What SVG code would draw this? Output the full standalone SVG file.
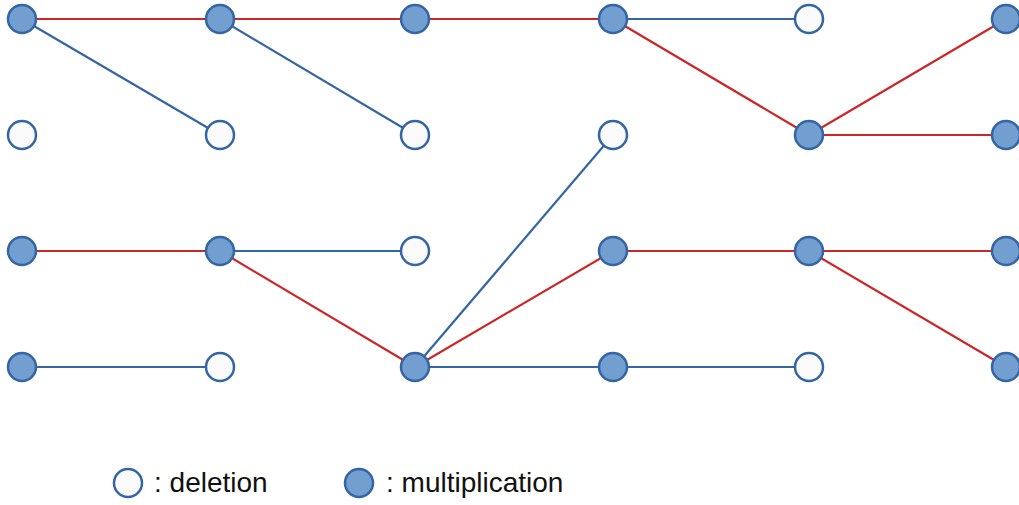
<svg xmlns="http://www.w3.org/2000/svg" width="1019" height="505" viewBox="0 0 1019 505">
<style>
.m{fill:#729fcf;stroke:#3465a4;stroke-width:2.5}
.d{fill:#fafafa;stroke:#3465a4;stroke-width:2.5}
.r{stroke:#cc2727;stroke-width:2.2;fill:none}
.b{stroke:#3465a4;stroke-width:2.2;fill:none}
text{font-family:"Liberation Sans",Arial,sans-serif;font-size:28px;fill:#111}
</style>
<rect width="1019" height="505" fill="#fff"/>
<g id="connectors">
<line class="r" x1="22" y1="19" x2="220" y2="19"/>
<line class="r" x1="220" y1="19" x2="415" y2="19"/>
<line class="r" x1="415" y1="19" x2="613" y2="19"/>
<line class="r" x1="613" y1="19" x2="809" y2="135"/>
<line class="r" x1="809" y1="135" x2="1006" y2="19"/>
<line class="r" x1="809" y1="135" x2="1006" y2="135"/>
<line class="r" x1="22" y1="251" x2="220" y2="251"/>
<line class="r" x1="220" y1="251" x2="415" y2="367"/>
<line class="r" x1="415" y1="367" x2="613" y2="251"/>
<line class="r" x1="613" y1="251" x2="809" y2="251"/>
<line class="r" x1="809" y1="251" x2="1006" y2="251"/>
<line class="r" x1="809" y1="251" x2="1006" y2="367"/>
<line class="b" x1="22" y1="19" x2="220" y2="135"/>
<line class="b" x1="220" y1="19" x2="415" y2="135"/>
<line class="b" x1="613" y1="19" x2="809" y2="19"/>
<line class="b" x1="220" y1="251" x2="415" y2="251"/>
<line class="b" x1="22" y1="367" x2="220" y2="367"/>
<line class="b" x1="415" y1="367" x2="613" y2="135"/>
<line class="b" x1="415" y1="367" x2="613" y2="367"/>
<line class="b" x1="613" y1="367" x2="809" y2="367"/>
</g>
<g id="n0_0"><circle class="m" cx="22" cy="19" r="14"/></g>
<g id="n0_1"><circle class="m" cx="220" cy="19" r="14"/></g>
<g id="n0_2"><circle class="m" cx="415" cy="19" r="14"/></g>
<g id="n0_3"><circle class="m" cx="613" cy="19" r="14"/></g>
<g id="n0_4"><circle class="d" cx="809" cy="19" r="14"/></g>
<g id="n0_5"><circle class="m" cx="1006" cy="19" r="14"/></g>
<g id="n1_0"><circle class="d" cx="22" cy="135" r="14"/></g>
<g id="n1_1"><circle class="d" cx="220" cy="135" r="14"/></g>
<g id="n1_2"><circle class="d" cx="415" cy="135" r="14"/></g>
<g id="n1_3"><circle class="d" cx="613" cy="135" r="14"/></g>
<g id="n1_4"><circle class="m" cx="809" cy="135" r="14"/></g>
<g id="n1_5"><circle class="m" cx="1006" cy="135" r="14"/></g>
<g id="n2_0"><circle class="m" cx="22" cy="251" r="14"/></g>
<g id="n2_1"><circle class="m" cx="220" cy="251" r="14"/></g>
<g id="n2_2"><circle class="d" cx="415" cy="251" r="14"/></g>
<g id="n2_3"><circle class="m" cx="613" cy="251" r="14"/></g>
<g id="n2_4"><circle class="m" cx="809" cy="251" r="14"/></g>
<g id="n2_5"><circle class="m" cx="1006" cy="251" r="14"/></g>
<g id="n3_0"><circle class="m" cx="22" cy="367" r="14"/></g>
<g id="n3_1"><circle class="d" cx="220" cy="367" r="14"/></g>
<g id="n3_2"><circle class="m" cx="415" cy="367" r="14"/></g>
<g id="n3_3"><circle class="m" cx="613" cy="367" r="14"/></g>
<g id="n3_4"><circle class="d" cx="809" cy="367" r="14"/></g>
<g id="n3_5"><circle class="m" cx="1006" cy="367" r="14"/></g>
<g id="legend_deletion"><circle class="d" cx="128" cy="483" r="14"/><text x="154" y="492">: deletion</text></g>
<g id="legend_multiplication"><circle class="m" cx="359" cy="483" r="14"/><text x="386" y="492">: multiplication</text></g>
</svg>
